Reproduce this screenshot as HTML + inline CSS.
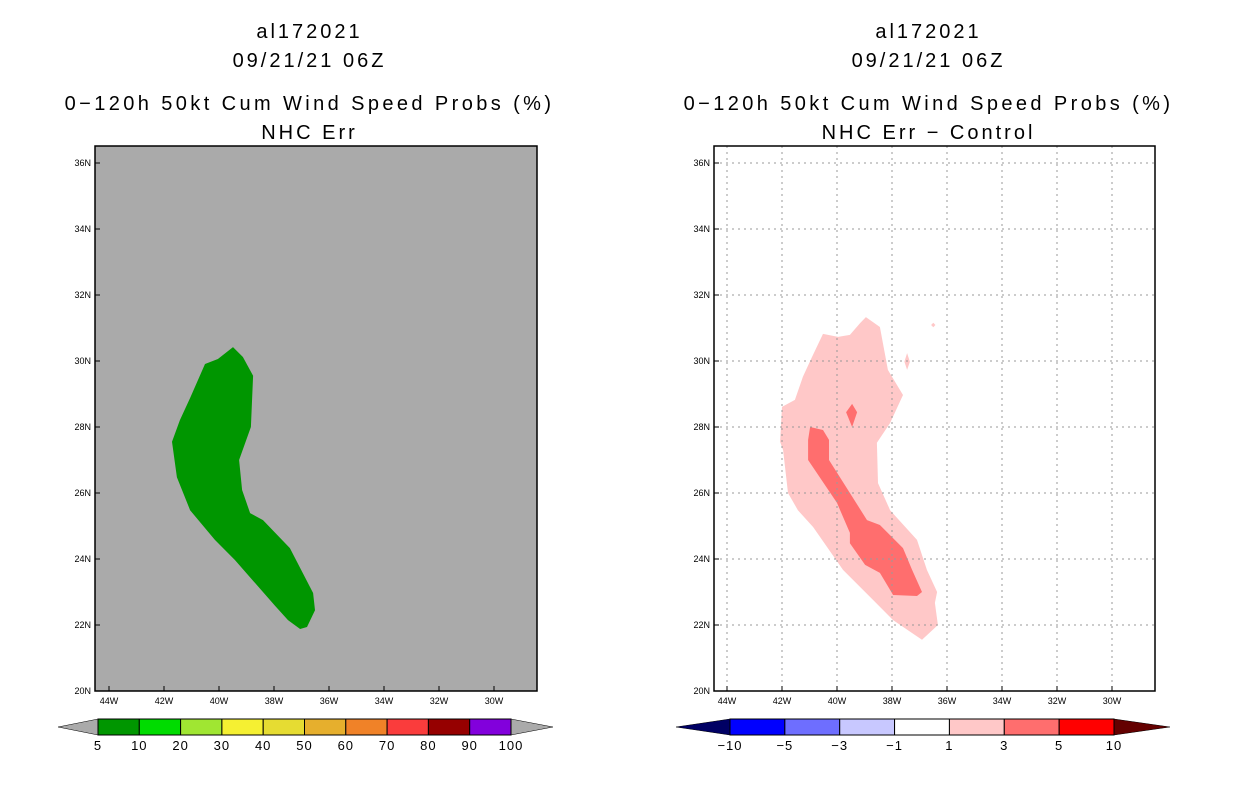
<!DOCTYPE html>
<html><head><meta charset="utf-8"><style>
body{margin:0;background:#fff;width:1236px;height:800px;overflow:hidden}
svg text{font-family:"Liberation Sans",sans-serif;fill:#000}
</style></head><body>
<svg id="root" width="1236" height="800">
</svg>
<script>
const lonTicks=[44,42,40,38,36,34,32,30];
const latTicks=[36,34,32,30,28,26,24,22,20];
const greenLon=[39.49,39.13,38.76,38.84,39.27,39.16,38.87,38.4,37.42,36.58,36.51,36.8,37.05,37.49,37.96,39.42,40.15,41.05,41.53,41.71,41.42,41.05,40.51,40.04];
const greenLat=[30.42,30.12,29.55,28.0,27.0,26.09,25.39,25.18,24.33,22.97,22.45,21.94,21.88,22.15,22.58,23.97,24.58,25.48,26.48,27.55,28.21,28.88,29.91,30.06];
const pinkLon=[38.95,38.44,38.15,37.6,38.07,38.55,38.51,38.07,37.09,36.73,36.36,36.44,36.33,36.91,37.96,38.69,39.78,40.87,41.42,41.78,41.96,42.07,42.0,41.53,41.24,40.91,40.51,39.96,39.53,39.16];
const pinkLat=[31.33,31.03,29.73,28.97,28.12,27.52,26.30,25.48,24.58,23.67,23.0,22.67,22.0,21.55,22.15,22.76,23.67,24.97,25.48,26.0,27.30,27.55,28.61,28.82,29.52,30.12,30.82,30.73,30.79,31.15];
const redLon=[40.98,40.51,40.29,40.29,39.53,38.91,38.44,37.6,37.27,36.91,37.09,37.96,38.44,38.98,39.53,39.53,40.0,41.05,41.05];
const redLat=[28.0,27.91,27.61,27.0,26.0,25.18,25.03,24.33,23.67,23.0,22.88,22.91,23.58,23.82,24.48,24.79,25.7,27.0,27.61];
const diamondLon=[39.45,39.27,39.45,39.67];
const diamondLat=[28.7,28.45,28.0,28.45];
const speck1Lon=[36.5,36.42,36.5,36.58];
const speck1Lat=[31.16,31.09,31.02,31.09];
const speck2Lon=[37.45,37.35,37.45,37.55];
const speck2Lat=[30.24,29.98,29.73,29.98];
const leftLevels=["5","10","20","30","40","50","60","70","80","90","100"];
const leftColors=["#009600","#00dc00","#a0e632","#f5f032","#e6dc32","#e6af2d","#f08228","#fa3c3c","#960000","#8200dc"];
const rightLevels=["\u221210","\u22125","\u22123","\u22121","1","3","5","10"];
const rightColors=["#0000ff","#6e6eff","#c8c8ff","#ffffff","#ffc8c8","#ff6e6e","#ff0000"];

const NS="http://www.w3.org/2000/svg";
const root=document.getElementById('root');
function mk(tag,attrs,parent){const e=document.createElementNS(NS,tag);for(const k in attrs)e.setAttribute(k,attrs[k]);(parent||root).appendChild(e);return e;}
function xs(lon,off){return 727+off+(44-lon)*27.5;}
function ys(lat){return 163+(36-lat)*33;}
function poly(lons,lats,off,fill,name){
  const pts=lons.map((l,i)=>xs(l,off).toFixed(1)+","+ys(lats[i]).toFixed(1)).join(" ");
  const p=mk('polygon',{points:pts,fill:fill});
  
  
}
function text(x,y,s,size,name,anchor,ls){
  const t=mk('text',{x:x,y:y,'font-size':size,'text-anchor':anchor||'middle'});
  if(ls)t.setAttribute('letter-spacing',ls);
  t.textContent=s;
  
  
  return t;
}
// titles
[[308,0,"NHC Err"],[927,1,"NHC Err \u2212 Control"]].forEach(([cx,i,sub])=>{
  text(cx+1.5,38,"al172021",20,'title-storm-id','middle',3);
  text(cx+1.5,67,"09/21/21 06Z",20,'title-date','middle',3);
  text(cx+1.5,110,"0\u2212120h 50kt Cum Wind Speed Probs (%)",20,'title-product','middle',3.4);
  text(cx+1.5,139,sub,20,'subtitle','middle',3);
});
// left panel
const lf=mk('rect',{x:95,y:146,width:442,height:545,fill:'#aaaaaa'});


poly(greenLon,greenLat,-618,'#009600','prob-5-10-area');
const lb=mk('rect',{x:95,y:146,width:442,height:545,fill:'none',stroke:'#000','stroke-width':1.5});


// right panel
const rf=mk('rect',{x:714,y:146,width:441,height:545,fill:'#fff'});


poly(pinkLon,pinkLat,0,'#ffc8c8','diff-1-3-area');
poly(redLon,redLat,0,'#ff6e6e','diff-3-5-area');
poly(diamondLon,diamondLat,0,'#ff6e6e','diff-3-5-spot');
poly(speck1Lon,speck1Lat,0,'#ffc8c8','diff-speck-1');
poly(speck2Lon,speck2Lat,0,'#ffc8c8','diff-speck-2');
lonTicks.forEach(l=>{const g=mk('line',{x1:xs(l,0),x2:xs(l,0),y1:146,y2:691,stroke:'#999','stroke-dasharray':'2,4'});});
latTicks.forEach(l=>{const g=mk('line',{x1:714,x2:1155,y1:ys(l),y2:ys(l),stroke:'#999','stroke-dasharray':'2,4'});});
const rb=mk('rect',{x:714,y:146,width:441,height:545,fill:'none',stroke:'#000','stroke-width':1.5});


// ticks
[[-618,95],[0,714]].forEach(([off,left])=>{
  lonTicks.forEach(l=>{mk('line',{x1:xs(l,off),x2:xs(l,off),y1:691,y2:686,stroke:'#000'});text(xs(l,off),704,l+"W",9,'x-tick-label');});
  latTicks.forEach(l=>{mk('line',{x1:left,x2:left+5,y1:ys(l),y2:ys(l),stroke:'#000'});text(left-4,ys(l)+3,l+"N",9,'y-tick-label','end');});
});
// colorbars
function cbar(x0,x1,tipL,tipR,colors,levels,lc,rc,name){
  const w=(x1-x0)/colors.length, y0=719,y1=735,ym=727;
  const a=mk('polygon',{points:`${tipL},${ym} ${x0},${y0} ${x0},${y1}`,fill:lc,stroke:'#000','stroke-width':0.5});
  
  const b=mk('polygon',{points:`${tipR},${ym} ${x1},${y0} ${x1},${y1}`,fill:rc,stroke:'#000','stroke-width':0.5});
  
  colors.forEach((c,i)=>{const r=mk('rect',{x:x0+i*w,y:y0,width:w,height:y1-y0,fill:c,stroke:'#000','stroke-width':1});});
  levels.forEach((s,i)=>text(x0+i*w,750,s,13,name+'-label','middle',1));
}
cbar(98,511,58,553,leftColors,leftLevels,'#aaaaaa','#aaaaaa','left-colorbar');
cbar(730,1114,676,1170,rightColors,rightLevels,'#000064','#640000','right-colorbar');
</script>
</body></html>
